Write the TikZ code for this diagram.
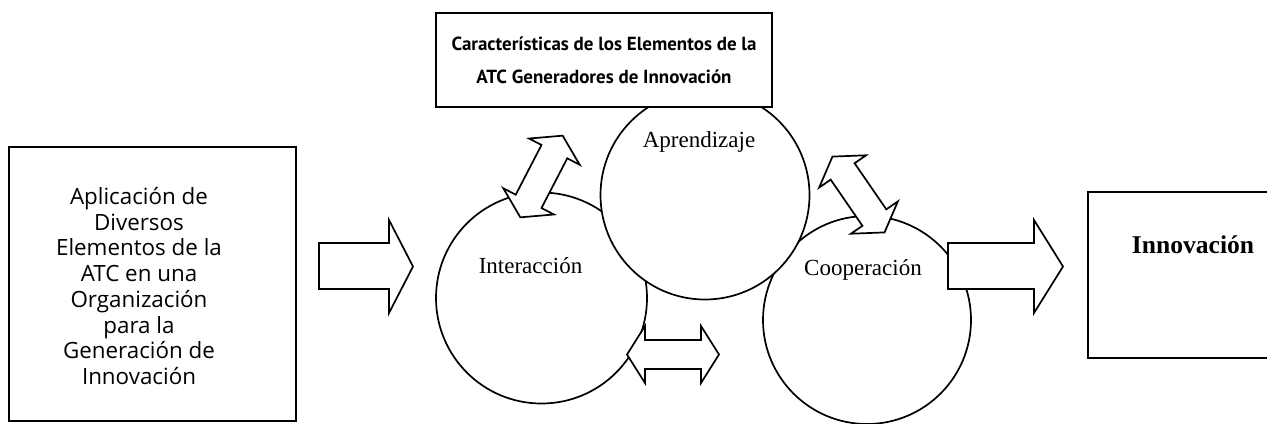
\documentclass[tikz,border=0pt]{standalone}
\usepackage{fontspec}
\setmainfont{Liberation Serif}
\newfontfamily\tahoma{Open Sans}
\newfontfamily\tahomabold{PT Sans Bold}

\def\pxu{0.0165cm}

\begin{document}
\begin{tikzpicture}[x=\pxu,y=-\pxu,line width=0.8pt,
    box/.style={draw,fill=white,rectangle,inner sep=0pt},
    ring/.style={draw,fill=white,circle,inner sep=0pt,minimum size=#1*\pxu},
    blockarrow/.style={draw,fill=white,line join=miter},
    sanstext/.style={font=\tahoma\fontsize{10.5}{12.1}\selectfont,align=center},
    titletext/.style={font=\tahomabold\fontsize{8.9}{15.5}\selectfont,align=center},
    circlabel/.style={font=\fontsize{10.8}{13}\selectfont}]
    \useasboundingbox (0,0) rectangle (1267,423);
    % left box
    \node[box,minimum width=287*\pxu,minimum height=274*\pxu] (appl) at (152.5,284) {};
    \node[sanstext] (appltext) at (139,286) {Aplicación de\\Diversos\\Elementos de la\\ATC en una\\Organización\\para la\\Generación de\\Innovación};
    % circles
    \node[ring=211] (inter) at (541.5,298) {};
    \node[ring=208] (coop) at (867,320) {};
    \node[ring=209] (aprend) at (705,195) {};
    \node[circlabel] (interlabel) at (530.5,266) {Interacción};
    \node[circlabel] (aprendlabel) at (699,142) {Aprendizaje};
    \node[circlabel] (cooplabel) at (863,270) {Cooperación};
    % top box
    \node[box,minimum width=336*\pxu,minimum height=94*\pxu] (feat) at (604,60) {};
    \node[titletext] (feattext) at (604,60) {Características de los Elementos de la\\ATC Generadores de Innovación};
    % result box, open on the right (cut by the margin)
    \node[box,draw=none,minimum width=400*\pxu,minimum height=164*\pxu] (innov) at (1289,275) {};
    \draw (innov.north east) -- (innov.north west) -- (innov.south west) -- (innov.south east);
    \node[font=\bfseries\fontsize{12}{14}\selectfont] (innovtext) at (1193,245) {Innovación};
    % block arrows
    \draw[blockarrow] (319,243) -- (389,243) -- (389,220) -- (413,266.5) -- (389,313) -- (389,289) -- (319,289) -- cycle;
    \draw[blockarrow] (948,243) -- (1034,243) -- (1034,220) -- (1063,266.5) -- (1034,313) -- (1034,289) -- (948,289) -- cycle;
    \foreach \cx/\cy/\ang in {673/354.5/0, 541.5/176.5/62.6, 858.5/194.5/124.5}
    \draw[blockarrow,shift={(\cx,\cy)},rotate=\ang] (-46,0) -- (-28,-28.5) -- (-28,-14.5) -- (28,-14.5) -- (28,-28.5) -- (46,0) -- (28,28.5) -- (28,14.5) -- (-28,14.5) -- (-28,28.5) -- cycle;
\end{tikzpicture}
\end{document}
